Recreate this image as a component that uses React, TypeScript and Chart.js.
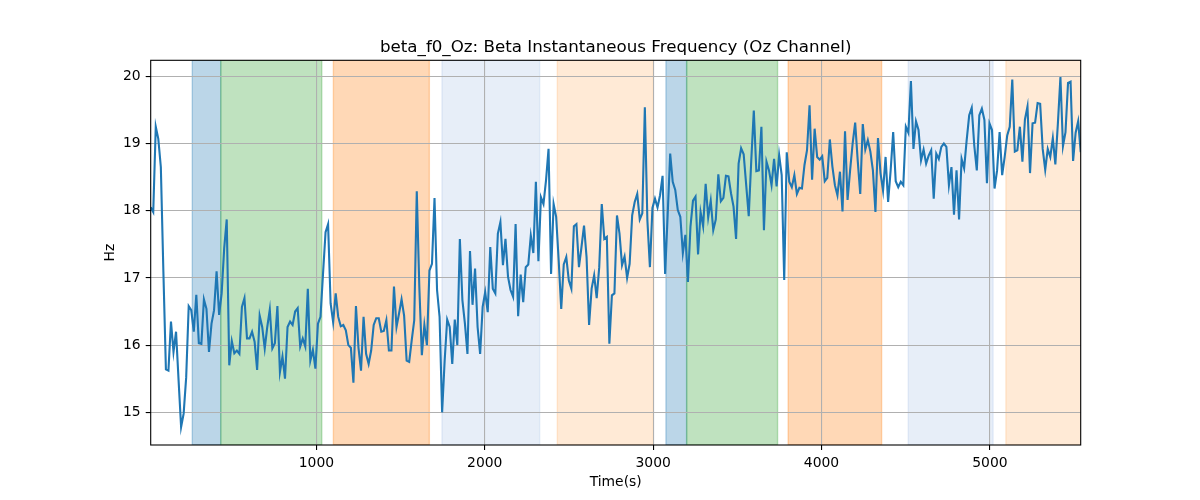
import { useEffect, useRef } from "react";
import { Chart, registerables } from "chart.js";

Chart.register(...registerables);

// sampling of the frequency trace (seconds)
const START_S = 16;
const STEP_S = 15.05;

// beta instantaneous frequency, Oz channel (Hz)
const FREQ_HZ = [
  18.05, 17.98, 19.25, 19.07, 18.65, 17.1, 15.64, 15.62, 16.35, 15.9, 16.2,
  15.48, 14.78, 14.98, 15.52, 16.58, 16.52, 16.2, 16.75, 16.03, 16.02,
  16.68, 16.54, 15.9, 16.32, 16.52, 17.1, 16.45, 16.77, 17.44, 17.87,
  15.7, 16.06, 15.88, 15.92, 15.87, 16.57, 16.7, 16.1, 16.1, 16.2,
  16.05, 15.63, 16.44, 16.27, 15.95, 16.27, 16.53, 15.95, 16.03, 16.58,
  15.6, 15.83, 15.5, 16.27, 16.35, 16.3, 16.5, 16.55, 15.98, 16.1, 15.98,
  16.84, 15.77, 15.93, 15.65, 16.32, 16.42, 17.06, 17.68, 17.8, 16.62,
  16.34, 16.77, 16.42, 16.28, 16.3, 16.22, 16.0, 15.96, 15.44, 16.58,
  15.96, 15.62, 16.42, 15.87, 15.72, 15.92, 16.3, 16.4, 16.4, 16.2,
  16.21, 16.37, 15.92, 15.92, 16.87, 16.27, 16.47, 16.68, 16.44, 15.77,
  15.75, 16.07, 16.37, 18.29, 16.87, 15.85, 16.3, 16.0, 17.11, 17.21,
  18.19, 16.82, 16.42, 15.0, 15.77, 16.38, 16.27, 15.72, 16.38, 16.0,
  17.58, 16.67, 16.32, 15.87, 17.4, 16.6, 17.14, 16.27, 15.87, 16.57,
  16.79, 16.49, 17.46, 16.84, 16.77, 17.66, 17.83, 17.19, 17.58, 17.02,
  16.82, 16.72, 17.8, 16.43, 17.05, 16.64, 17.16, 17.2, 17.63, 17.37,
  18.43, 17.25, 18.2, 18.1, 18.45, 18.92, 17.06, 18.1, 17.91, 17.26,
  16.54, 17.2, 17.31, 16.96, 16.84, 17.77, 17.8, 17.16, 17.46, 17.78,
  17.31, 16.3, 16.84, 17.04, 16.7, 17.16, 18.1, 17.58, 17.61,
  16.02, 16.74, 16.77, 17.93, 17.66, 17.19, 17.32, 17.0, 17.21, 17.93,
  18.13, 18.25, 17.87, 17.96, 19.54, 17.86, 17.16, 18.04, 18.18, 18.05,
  18.23, 18.52, 17.06, 17.93, 18.85, 18.43, 18.31, 18.01, 17.91, 17.37,
  17.64, 16.94, 17.76, 18.15, 18.21, 17.35, 17.98, 17.77, 18.4, 17.9,
  18.15, 17.71, 17.87, 18.54, 18.14, 18.19, 18.52, 18.51, 18.26, 18.06,
  17.58, 18.7, 18.93, 18.84, 18.38, 17.92, 18.75, 19.49, 18.59, 18.6, 19.25,
  17.71, 18.73, 18.6, 18.38, 18.77, 18.36, 18.83, 18.53, 16.97, 18.87,
  18.43, 18.35, 18.53, 18.25, 18.34, 18.33, 18.68, 18.9, 19.57, 18.46,
  19.22, 18.8, 18.76, 18.81, 18.44, 18.49, 19.06, 18.66, 18.38, 18.23,
  18.58, 17.99, 19.18, 18.16, 18.6, 19.0, 19.31, 18.75, 18.25, 19.29,
  18.91, 19.05, 18.88, 18.6, 17.98, 19.08, 18.56, 18.3, 18.8, 18.13,
  18.6, 19.17, 18.44, 18.35, 18.43, 18.38, 19.25, 19.16, 19.93, 18.92, 19.33, 19.2,
  18.75, 18.91, 18.7, 18.82, 18.9, 18.18, 18.85, 18.77, 18.95, 19.0,
  18.95, 18.38, 18.65, 17.94, 18.6, 17.87, 18.77, 18.63, 19.05, 19.42,
  19.53, 18.97, 18.6, 19.42, 19.52, 19.35, 18.41, 19.3, 19.2, 18.33,
  18.6, 19.17, 18.53, 18.8, 19.12, 19.25, 19.95, 18.88, 18.9, 19.25,
  18.73, 19.36, 19.55, 18.56, 19.3, 19.31, 19.6, 19.59, 18.92, 18.61,
  18.92, 18.8, 19.08, 18.69, 19.3, 19.99, 18.96, 19.17, 19.9, 19.92,
  18.74, 19.16, 19.33, 18.87,
];

const X_TICKS = [1000, 2000, 3000, 4000, 5000];
const Y_TICKS = [15, 16, 17, 18, 19, 20];

// shaded segments (s)
const SPAN_START = [263, 432, 1101, 1746, 2431, 3076, 3199, 3802, 4515, 5095];
const SPAN_END = [432, 1032, 1671, 2326, 3001, 3199, 3739, 4357, 5019, 5700];
const SPAN_COLOR = [
  "#1f77b4", "#2ca02c", "#ff7f0e", "#aec7e8", "#ffbb78",
  "#1f77b4", "#2ca02c", "#ff7f0e", "#aec7e8", "#ffbb78",
];

const FONT = "DejaVu Sans";

const spansPlugin = {
  id: "spans",
  beforeDraw(chart: any) {
    const { ctx, chartArea: a, scales } = chart;
    ctx.save();
    ctx.beginPath();
    ctx.rect(a.left, a.top, a.right - a.left, a.bottom - a.top);
    ctx.clip();
    ctx.globalAlpha = 0.3;
    ctx.lineWidth = 1.4;
    SPAN_START.forEach((s, i) => {
      const x0 = scales.x.getPixelForValue(s);
      const x1 = scales.x.getPixelForValue(SPAN_END[i]);
      ctx.fillStyle = SPAN_COLOR[i];
      ctx.strokeStyle = SPAN_COLOR[i];
      ctx.fillRect(x0, a.top, x1 - x0, a.bottom - a.top);
      ctx.strokeRect(x0, a.top, x1 - x0, a.bottom - a.top);
    });
    ctx.restore();
  },
  afterDraw(chart: any) {
    const { ctx, chartArea: a } = chart;
    ctx.save();
    ctx.strokeStyle = "#000";
    ctx.lineWidth = 1.1;
    ctx.strokeRect(a.left, a.top, a.right - a.left, a.bottom - a.top);

    ctx.fillStyle = "#000";
    ctx.textAlign = "center";
    ctx.textBaseline = "alphabetic";
    const cx = (a.left + a.right) / 2;
    ctx.font = `16.7px "${FONT}"`;
    ctx.fillText("beta_f0_Oz: Beta Instantaneous Frequency (Oz Channel)", cx, a.top - 8.3);
    ctx.font = `13.9px "${FONT}"`;
    ctx.fillText("Time(s)", cx, 485.5);
    ctx.translate(114, (a.top + a.bottom) / 2);
    ctx.rotate(-Math.PI / 2);
    ctx.fillText("Hz", 0, 0);
    ctx.restore();
  },
};

export default function App() {
  const canvasRef = useRef<HTMLCanvasElement>(null);

  useEffect(() => {
    if (!canvasRef.current) return;
    const points = FREQ_HZ.map((y, i) => ({ x: START_S + i * STEP_S, y }));
    const tickFont = { family: FONT, size: 13.9 };

    const chart = new Chart(canvasRef.current, {
      type: "line",
      data: {
        datasets: [
          {
            data: points,
            borderColor: "#1f77b4",
            borderWidth: 2.1,
            pointRadius: 0,
            tension: 0,
            fill: false,
          },
        ],
      },
      options: {
        animation: false,
        responsive: false,
        devicePixelRatio: 1,
        layout: { padding: { left: 0, top: 60.3, right: 119.3, bottom: 0 } },
        plugins: { legend: { display: false }, tooltip: { enabled: false } },
        scales: {
          x: {
            type: "linear",
            min: points[0].x,
            max: points[points.length - 1].x,
            afterBuildTicks: (s: any) => {
              s.ticks = X_TICKS.map((v) => ({ value: v }));
            },
            afterFit: (s: any) => {
              s.height = 55;
            },
            ticks: { color: "#000", font: tickFont, padding: 5, maxRotation: 0, callback: (v: any) => String(v) },
            grid: { color: "#b0b0b0", lineWidth: 1.1, tickColor: "#000", tickLength: 5, tickWidth: 1.1 },
            border: { display: false },
          },
          y: {
            min: 14.514,
            max: 20.238,
            afterBuildTicks: (s: any) => {
              s.ticks = Y_TICKS.map((v) => ({ value: v }));
            },
            afterFit: (s: any) => {
              s.width = 150.7;
            },
            ticks: { color: "#000", font: tickFont, padding: 5, callback: (v: any) => String(v) },
            grid: { color: "#b0b0b0", lineWidth: 1.1, tickColor: "#000", tickLength: 5, tickWidth: 1.1 },
            border: { display: false },
          },
        },
      },
      plugins: [spansPlugin],
    });

    return () => chart.destroy();
  }, []);

  return (
    <div style={{ position: "absolute", left: 0, top: 0, width: 1200, height: 500, background: "#fff" }}>
      <canvas ref={canvasRef} width={1200} height={500} />
    </div>
  );
}
